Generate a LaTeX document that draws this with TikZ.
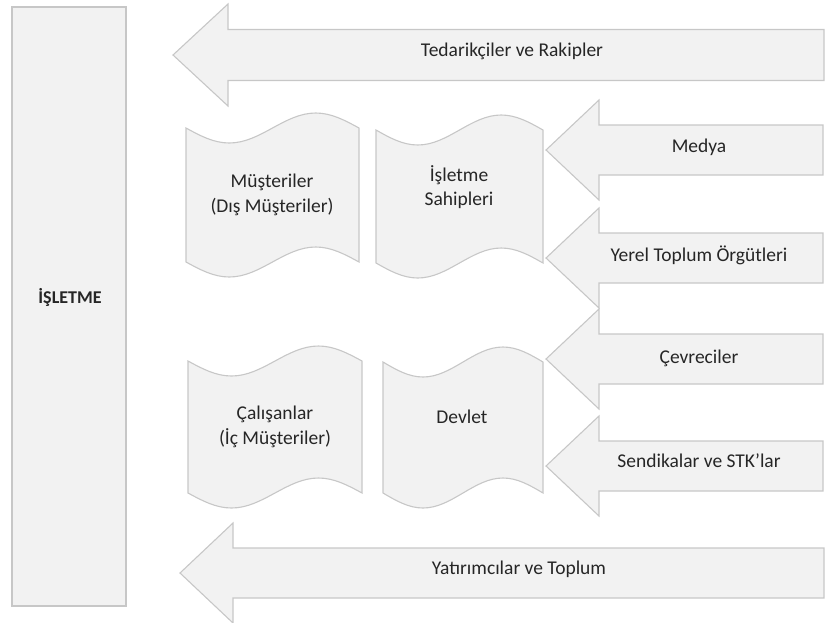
\documentclass[tikz,border=0pt]{standalone}
\usepackage{fontspec}
\setmainfont{Carlito}
\usepackage{tikz}

\begin{document}
\begin{tikzpicture}[x=1pt,y=-1pt,
    box/.style={draw=black!22,fill=black!5,line width=1.1pt},
    lbl/.style={text=black!85,align=center,font=\fontsize{19.5}{24.5}\selectfont}]

\useasboundingbox (0,0) rectangle (826,622);

\draw[box] (12,7) rectangle (126,606);
\node[lbl,font=\fontsize{18}{22}\selectfont\bfseries] (isletme) at (70,297) {İŞLETME};

\foreach \x/\w/\t/\b in {186/173/128/262, 376/167/130/263, 188/174/361/493, 383/160/362/493}
    \draw[box] (\x,\t) sin ({\x+\w/4},{\t+15}) cos ({\x+\w/2},\t)
        sin ({\x+3*\w/4},{\t-15}) cos ({\x+\w},\t) -- ({\x+\w},\b)
        sin ({\x+3*\w/4},{\b-15}) cos ({\x+\w/2},\b)
        sin ({\x+\w/4},{\b+15}) cos (\x,\b) -- cycle;

\node[lbl] (musteri) at (272,195) {Müşteriler\\(Dış Müşteriler)};
\node[lbl] (sahip) at (459,187) {İşletme\\Sahipleri};
\node[lbl] (calisan) at (275,427) {Çalışanlar\\(İç Müşteriler)};
\node[lbl] (devlet) at (462,417) {Devlet};

\foreach \y in {150,258,359,466}
    \draw[box] (546,\y) -- (599,{\y-50}) -- (599,{\y-25}) -- (823,{\y-25})
        -- (823,{\y+25}) -- (599,{\y+25}) -- (599,{\y+50}) -- cycle;

\foreach \y/\n/\txt in {147/medya/Medya, 255/yerel/Yerel Toplum Örgütleri,
    358/cevre/Çevreciler, 461/sendika/Sendikalar ve STK'lar}
    \node[lbl] (\n) at (699,\y) {\txt};

\draw[box] (173,55) -- (228,4) -- (228,29.5) -- (824,29.5) -- (824,80.5)
    -- (228,80.5) -- (228,106) -- cycle;
\node[lbl] (tedarik) at (512,51) {Tedarikçiler ve Rakipler};

\draw[box] (180,573) -- (233,523) -- (233,548) -- (824,548) -- (824,598)
    -- (233,598) -- (233,623) -- cycle;
\node[lbl] (yatirim) at (519,569) {Yatırımcılar ve Toplum};

\end{tikzpicture}
\end{document}
